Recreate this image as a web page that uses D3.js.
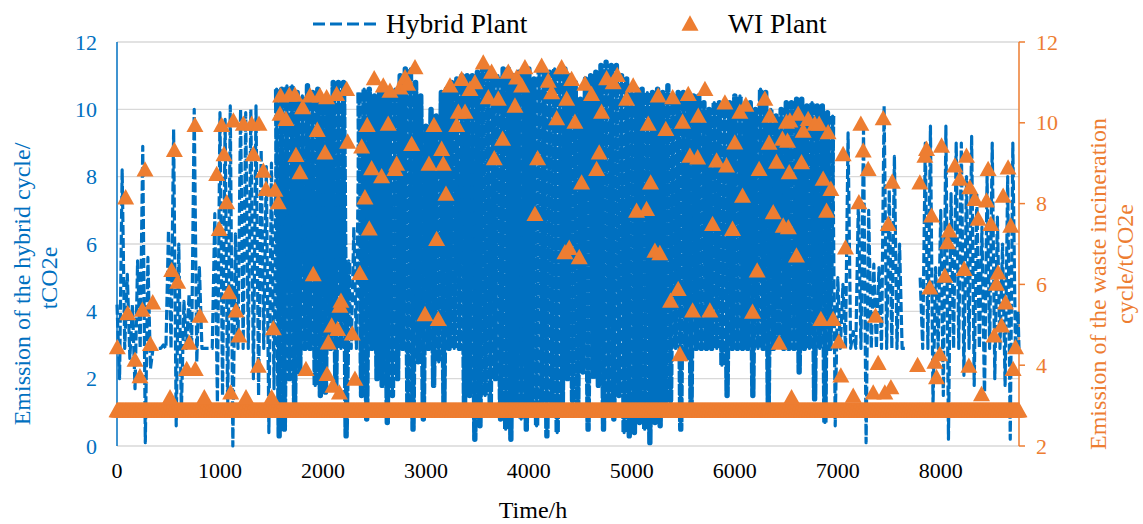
<!DOCTYPE html>
<html>
<head>
<meta charset="utf-8">
<script src="https://cdn.jsdelivr.net/npm/d3@7"></script>
<style>
  body { margin: 0; background: #fff; }
  text { font-family: "Liberation Serif", "Times New Roman", serif; }
</style>
</head>
<body>
<svg id="chart" width="1143" height="524"></svg>
<script>
// hybrid plant: highest and lowest reading in each 50 h block (left axis, tCO2e)
const binHours = 50;
const hybridHi = [
  4.2, 8.2, 5.1, 4.2, 5.5, 8.9, 5.6, 2.9, 2.9, 3.0,
  6.4, 9.4, 6.0, 4.3, 4.5, 10.0, 5.3, 2.9, 2.9, 6.9,
  9.9, 9.7, 10.1, 6.3, 10.0, 9.9, 10.0, 10.1, 8.8, 8.3,
  8.4, 10.6, 10.6, 10.7, 10.7, 10.5, 10.4, 10.7, 10.5, 10.6,
  10.2, 10.3, 10.8, 10.8, 10.8, 5.5, 6.5, 10.5, 10.6, 10.6,
  10.4, 10.5, 10.6, 10.5, 10.6, 11.0, 11.2, 11.2, 10.8, 10.4,
  9.5, 10.0, 9.8, 10.5, 10.6, 10.8, 10.9, 11.0, 11.0, 11.0,
  11.1, 11.3, 11.2, 11.0, 11.0, 11.2, 11.2, 11.0, 11.1, 11.2,
  11.2, 10.9, 11.2, 11.2, 11.1, 11.2, 11.0, 11.2, 11.0, 10.8,
  10.3, 10.9, 11.0, 11.1, 11.3, 11.4, 11.3, 11.3, 11.0, 10.9,
  10.7, 10.6, 10.6, 10.5, 10.5, 10.6, 10.5, 10.7, 10.4, 10.5,
  10.5, 10.3, 10.4, 10.4, 10.2, 10.0, 10.2, 10.2, 10.1, 10.2,
  10.4, 10.4, 10.0, 10.2, 10.0, 10.6, 10.5, 10.0, 9.8, 10.0,
  10.2, 10.2, 10.3, 10.3, 10.1, 10.2, 10.1, 10.1, 9.9, 9.8,
  5.0, 4.8, 9.3, 3.4, 7.3, 9.4, 7.0, 5.4, 5.3, 10.1,
  7.6, 8.6, 6.0, 2.9, null, null, 5.0, 9.0, 9.5, 5.3,
  7.0, 9.5, 7.5, 9.0, 9.0, 8.0, 9.2, 7.5, 6.5, 8.0,
  9.0, 6.8, 6.0, 8.0, 9.0, 4.0
];
const hybridLo = [
  2.0, 2.9, 2.6, 1.7, 2.9, 0.1, 2.3, 2.9, 2.9, 2.9,
  2.9, 0.6, 1.0, 2.9, 2.9, 2.5, 2.9, 2.9, 2.9, 1.3,
  1.5, 1.0, 0.0, 2.9, 2.9, 2.9, 2.0, 1.5, 2.9, 0.4,
  1.7, 0.3, 0.5, 2.0, 1.1, 2.2, 2.9, 2.9, 1.8, 1.5,
  1.6, 2.9, 1.7, 2.9, 0.3, 2.9, 2.9, 1.5, 0.8, 2.9,
  2.0, 1.8, 0.7, 1.5, 2.0, 2.9, 1.0, 0.5, 2.5, 0.8,
  2.9, 1.8, 2.5, 1.2, 2.9, 2.9, 2.9, 1.0, 1.5, 0.2,
  0.6, 1.5, 1.0, 2.0, 0.8, 0.5, 0.2, 1.0, 0.8, 0.5,
  1.0, 0.6, 1.2, 0.3, 1.0, 0.4, 1.2, 2.0, 0.9, 1.2,
  2.2, 0.5, 2.0, 1.8, 0.5, 1.0, 0.8, 1.5, 0.4, 0.3,
  0.4, 0.7, 0.5, 0.1, 0.7, 0.6, 1.3, 0.9, 2.9, 0.5,
  2.6, 1.0, 2.9, 2.9, 2.9, 2.9, 2.9, 2.4, 1.5, 2.9,
  2.9, 2.9, 2.9, 1.5, 2.9, 2.9, 1.3, 2.9, 2.9, 2.9,
  2.9, 2.9, 2.2, 2.9, 2.9, 1.4, 2.9, 0.7, 2.9, 0.6,
  2.9, 2.9, 2.9, 2.9, 2.9, 0.1, 2.9, 2.9, 2.9, 2.9,
  2.9, 2.9, 2.9, 2.9, null, null, 2.9, 2.9, 1.2, 2.9,
  1.5, 0.2, 2.9, 2.9, 2.1, 2.9, 1.8, 2.9, 1.4, 2.9,
  2.0, 2.9, 1.8, 0.2, 2.9, 2.9
];

// waste incineration plant: usual level and the hours it rises above it (right axis)
const wiBase = 2.9;
const wiHours = [
  3, 84, 104, 175, 223, 246, 272, 325, 347, 515, 531, 557, 589, 677, 702, 757, 760, 806, 848, 968,
  993, 1016, 1039, 1065, 1087, 1104, 1130, 1156, 1185, 1227, 1253, 1308, 1324, 1372, 1379, 1421, 1447, 1502, 1518, 1534,
  1566, 1583, 1589, 1641, 1673, 1728, 1738, 1777, 1803, 1835, 1874, 1906, 1945, 1971, 2020, 2036, 2040, 2052, 2085, 2097,
  2133, 2143, 2160, 2165, 2175, 2230, 2240, 2285, 2311, 2359, 2376, 2408, 2430, 2450, 2473, 2498, 2570, 2586, 2634, 2651,
  2699, 2716, 2748, 2797, 2823, 2862, 2894, 2991, 3030, 3078, 3104, 3120, 3153, 3169, 3195, 3234, 3299, 3315, 3347, 3380,
  3428, 3476, 3557, 3606, 3638, 3664, 3703, 3745, 3800, 3865, 3881, 3930, 3962, 4059, 4085, 4124, 4188, 4221, 4270, 4318,
  4350, 4367, 4392, 4415, 4447, 4489, 4512, 4544, 4609, 4658, 4683, 4706, 4755, 4819, 4858, 4949, 5013, 5046, 5143, 5159,
  5182, 5224, 5256, 5272, 5330, 5376, 5396, 5450, 5467, 5493, 5548, 5564, 5590, 5639, 5645, 5710, 5758, 5784, 5823, 5904,
  5920, 5978, 6000, 6049, 6075, 6107, 6172, 6217, 6236, 6292, 6333, 6340, 6373, 6405, 6431, 6463, 6470, 6502, 6512, 6520,
  6528, 6535, 6551, 6599, 6615, 6648, 6664, 6712, 6777, 6819, 6836, 6858, 6891, 6906, 6933, 6955, 7010, 7030, 7052, 7075,
  7150, 7205, 7224, 7247, 7295, 7344, 7367, 7392, 7441, 7457, 7490, 7516, 7529, 7775, 7797, 7846, 7862, 7894, 7911, 7943,
  7959, 7991, 8008, 8040, 8066, 8082, 8137, 8185, 8227, 8250, 8273, 8282, 8331, 8363, 8396, 8444, 8460, 8487, 8518, 8541,
  8557, 8590, 8606, 8629, 8654, 8680, 8703, 8726
];
const wiValues = [
  4.46, 8.17, 5.30, 4.15, 3.74, 5.39, 8.86, 4.54, 5.57, 3.22, 6.37, 9.34, 6.08, 3.92, 4.57, 9.96, 3.92, 5.24, 3.22, 8.75,
  7.39, 9.96, 9.24, 8.05, 5.82, 3.34, 10.07, 5.37, 4.75, 9.99, 3.22, 9.99, 9.24, 4.00, 9.99, 8.83, 8.38, 3.22, 4.93, 8.36,
  8.05, 10.24, 10.69, 10.11, 10.71, 10.71, 9.22, 8.79, 10.40, 3.92, 10.69, 6.27, 9.84, 10.69, 9.28, 10.65, 3.80, 4.58, 5.00, 3.51,
  10.73, 4.91, 3.34, 5.49, 5.61, 10.85, 9.55, 4.80, 3.68, 6.30, 9.43, 8.17, 9.96, 7.40, 8.89, 11.12, 8.69, 10.94, 9.99, 10.81,
  8.87, 9.00, 10.89, 11.14, 10.98, 9.49, 11.39, 5.28, 9.00, 9.96, 7.14, 5.16, 9.37, 9.00, 8.26, 10.94, 9.96, 10.29, 11.10, 10.29,
  10.85, 11.02, 11.51, 10.65, 11.28, 9.14, 10.61, 9.62, 11.28, 10.44, 11.14, 10.94, 11.39, 7.76, 9.14, 11.43, 11.06, 10.77, 10.13, 11.39,
  6.81, 10.61, 6.92, 11.10, 10.04, 6.69, 8.54, 10.98, 10.73, 8.87, 9.28, 10.29, 11.12, 11.02, 11.20, 10.61, 10.94, 7.84, 7.88, 9.99,
  8.54, 6.85, 10.69, 6.79, 9.86, 5.61, 10.65, 5.90, 4.29, 10.04, 10.73, 9.20, 5.37, 9.16, 10.19, 10.85, 5.37, 7.51, 9.08, 10.52,
  8.96, 7.39, 9.53, 10.29, 8.21, 10.46, 5.34, 6.36, 8.87, 10.61, 9.52, 10.19, 7.80, 9.05, 4.57, 9.62, 7.47, 10.04, 9.57, 7.43,
  8.79, 10.07, 3.22, 6.73, 10.24, 9.04, 9.82, 10.11, 9.99, 9.99, 5.16, 8.63, 7.84, 9.78, 8.38, 5.16, 4.60, 3.76, 9.24, 6.93,
  3.26, 8.05, 9.99, 9.33, 8.87, 3.34, 5.24, 4.07, 10.13, 3.34, 7.51, 3.47, 8.56, 4.02, 8.54, 9.20, 9.37, 5.94, 7.72, 4.10,
  3.72, 4.29, 9.45, 6.23, 7.06, 7.35, 8.96, 8.63, 6.40, 9.20, 4.00, 8.42, 8.13, 7.64, 3.30, 8.09, 8.87, 7.51, 4.75, 6.03,
  6.31, 5.00, 8.21, 5.57, 8.91, 7.47, 3.92, 4.46
];

const xTicks = [0, 1000, 2000, 3000, 4000, 5000, 6000, 7000, 8000];
const leftTicks = [0, 2, 4, 6, 8, 10, 12];
const rightTicks = [2, 4, 6, 8, 10, 12];

const blue = "#0070C0", orange = "#ED7D31", grid = "#D9D9D9";
const svg = d3.select("#chart");

const x = d3.scaleLinear().domain([0, 8760]).range([117, 1019]);
const yL = d3.scaleLinear().domain([0, 12]).range([446, 42]);
const yR = d3.scaleLinear().domain([2, 12]).range([446, 42]);

// gridlines
svg.append("g").selectAll("line").data(leftTicks).join("line")
  .attr("x1", x(0)).attr("x2", x(8760))
  .attr("y1", d => yL(d)).attr("y2", d => yL(d))
  .attr("stroke", grid).attr("stroke-width", 1.3);

// axis lines
svg.append("line").attr("x1", x(0)).attr("x2", x(0)).attr("y1", yL(0)).attr("y2", yL(12))
  .attr("stroke", blue).attr("stroke-width", 1.5);
svg.append("line").attr("x1", x(8760)).attr("x2", x(8760)).attr("y1", yR(2)).attr("y2", yR(12))
  .attr("stroke", orange).attr("stroke-width", 1.5);
svg.append("g").selectAll("line").data(rightTicks).join("line")
  .attr("x1", x(8760)).attr("x2", x(8760) + 6)
  .attr("y1", d => yR(d)).attr("y2", d => yR(d))
  .attr("stroke", orange).attr("stroke-width", 1.5);

// hybrid line, each block drawn as its high point then its low point
const hybridPts = [];
hybridHi.forEach((hi, i) => {
  const h0 = i * binHours;
  hybridPts.push([h0, hi]);
  hybridPts.push([Math.min(h0 + binHours / 2, 8760), hybridLo[i]]);
});
const line = d3.line()
  .defined(d => d[1] != null)
  .x(d => x(d[0]))
  .y(d => yL(d[1]));
svg.append("path").datum(hybridPts)
  .attr("d", line)
  .attr("fill", "none")
  .attr("stroke", blue)
  .attr("stroke-width", 3.2)
  .attr("stroke-dasharray", "10,3")
  .attr("stroke-linejoin", "round");

// where the hourly values are packed tight the line reads as a solid mass,
// so the same points are stroked heavier there
const denseSpans = [[1550, 2250], [2350, 6950]];
const inDense = d => denseSpans.some(s => d[0] >= s[0] && d[0] <= s[1]);
const denseLine = d3.line()
  .defined(d => d[1] != null && inDense(d))
  .x(d => x(d[0]))
  .y(d => yL(d[1]));
svg.append("path").datum(hybridPts)
  .attr("d", denseLine)
  .attr("fill", "none")
  .attr("stroke", blue)
  .attr("stroke-width", 5.4)
  .attr("stroke-dasharray", "11,2")
  .attr("stroke-linejoin", "round");

// triangle marker, centred on its box like excel
const tri = {
  draw(ctx, size) {
    const w = Math.sqrt(size), h = w * 0.9;
    ctx.moveTo(0, -h / 2);
    ctx.lineTo(w / 2, h / 2);
    ctx.lineTo(-w / 2, h / 2);
    ctx.closePath();
  }
};
const triD = d3.symbol().type(tri).size(17 * 17)();

const wiBaseHours = d3.range(0, 8761, 6);
const gWI = svg.append("g").attr("fill", orange);
gWI.selectAll("path.base").data(wiBaseHours).join("path")
  .attr("class", "base")
  .attr("d", triD)
  .attr("transform", d => `translate(${x(d)},${yR(wiBase)})`);
gWI.selectAll("path.peak").data(wiHours).join("path")
  .attr("class", "peak")
  .attr("d", triD)
  .attr("transform", (d, i) => `translate(${x(d)},${yR(wiValues[i])})`);

// tick labels
svg.append("g").selectAll("text").data(leftTicks).join("text")
  .attr("x", 97).attr("y", d => yL(d))
  .attr("text-anchor", "end").attr("dominant-baseline", "central")
  .attr("fill", blue).attr("font-size", 22)
  .text(d => d);
svg.append("g").selectAll("text").data(rightTicks).join("text")
  .attr("x", 1036).attr("y", d => yR(d))
  .attr("dominant-baseline", "central")
  .attr("fill", orange).attr("font-size", 22)
  .text(d => d);
svg.append("g").selectAll("text").data(xTicks).join("text")
  .attr("x", d => x(d)).attr("y", 478)
  .attr("text-anchor", "middle")
  .attr("fill", "#000").attr("font-size", 22)
  .text(d => d);

// axis titles
svg.append("text").attr("x", 533).attr("y", 518)
  .attr("text-anchor", "middle").attr("font-size", 24).text("Time/h");

svg.append("text")
  .attr("transform", "translate(30,284) rotate(-90)")
  .attr("text-anchor", "middle").attr("fill", blue).attr("font-size", 24)
  .text("Emission of the hybrid cycle/");
svg.append("text")
  .attr("transform", "translate(57,278) rotate(-90)")
  .attr("text-anchor", "middle").attr("fill", blue).attr("font-size", 24)
  .text("tCO2e");

svg.append("text")
  .attr("transform", "translate(1106,284) rotate(-90)")
  .attr("text-anchor", "middle").attr("fill", orange).attr("font-size", 24)
  .text("Emission of the waste incineration");
svg.append("text")
  .attr("transform", "translate(1133,264) rotate(-90)")
  .attr("text-anchor", "middle").attr("fill", orange).attr("font-size", 24)
  .text("cycle/tCO2e");

// legend
const lg = svg.append("g");
lg.append("line").attr("x1", 313).attr("x2", 378).attr("y1", 24).attr("y2", 24)
  .attr("stroke", blue).attr("stroke-width", 3).attr("stroke-dasharray", "12,5");
lg.append("text").attr("x", 386).attr("y", 33).attr("font-size", 27.5).text("Hybrid Plant");
lg.append("path").attr("d", triD).attr("fill", orange).attr("transform", "translate(690,23)");
lg.append("text").attr("x", 728).attr("y", 33).attr("font-size", 27.5).text("WI Plant");
</script>
</body>
</html>
